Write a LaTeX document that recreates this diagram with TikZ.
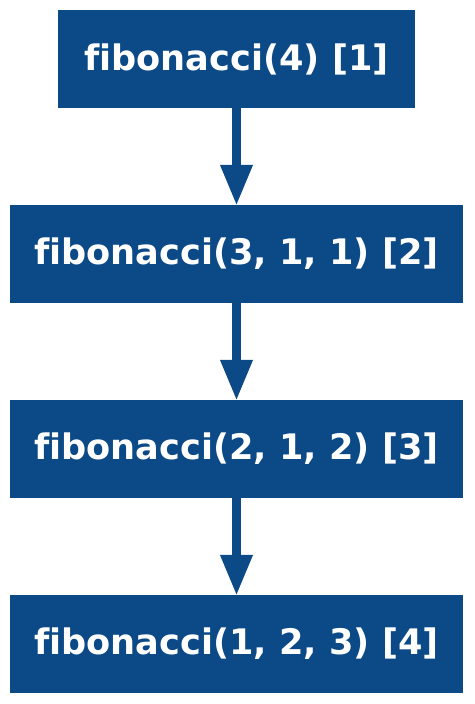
\documentclass[tikz,border=0pt]{standalone}
\usepackage{fontspec}
\setmainfont[Ligatures=NoCommon]{DejaVu Sans}
\usepackage{xcolor}
\usetikzlibrary{arrows.meta}
\definecolor{callblue}{HTML}{0B4A87}

\begin{document}
\begin{tikzpicture}[
            x=0.03cm, y=-0.03cm,
            call/.style ={fill=callblue, draw=none, text=white, inner sep=0pt,
                          minimum height=2.94cm, minimum width=13.59cm,
                          font=\fontsize{30}{36}\selectfont\bfseries},
            flow/.style ={-{Triangle[length=1.23cm, width=0.9cm]}, line width=0.28cm,
                          draw=callblue, shorten >=-1pt}
        ]
        \useasboundingbox (0,0) rectangle (474,704);

        \node[call, minimum width=10.71cm] (fib4) at (236.5,59) {fibonacci(4) [1]};
        \node[call] (fib3) at (236.5,254) {fibonacci(3, 1, 1) [2]};
        \node[call] (fib2) at (236.5,449) {fibonacci(2, 1, 2) [3]};
        \node[call] (fib1) at (236.5,644) {fibonacci(1, 2, 3) [4]};

        \draw[flow] (fib4) -- (fib3);
        \draw[flow] (fib3) -- (fib2);
        \draw[flow] (fib2) -- (fib1);
\end{tikzpicture}
\end{document}
